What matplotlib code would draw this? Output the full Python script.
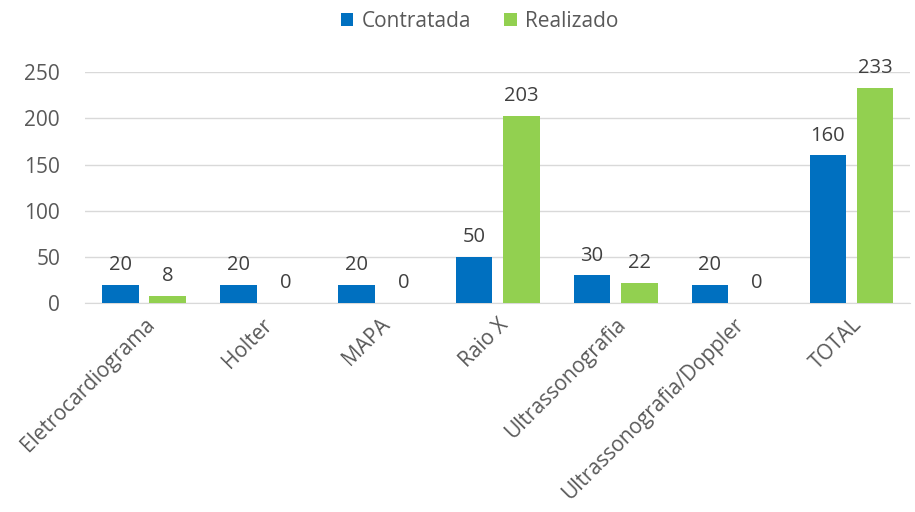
import matplotlib.pyplot as plt
import numpy as np

# Dados
categorias = ["Eletrocardiograma", "Holter", "MAPA", "Raio X", "Ultrassonografia",
              "Ultrassonografia/Doppler", "TOTAL"]
contratada = [20, 20, 20, 50, 30, 20, 160]
realizado = [8, 0, 0, 203, 22, 0, 233]

plt.rcParams['font.family'] = ['Open Sans', 'DejaVu Sans']
cinza = '#595959'

fig = plt.figure(figsize=(9.15, 5.12), dpi=100)
ax = fig.add_axes([0.093, 0.408, 0.902, 0.451])

x = np.arange(len(categorias))
w = 0.31
b1 = ax.bar(x - 0.2, contratada, w, color='#0070C0', label='Contratada', zorder=3)
b2 = ax.bar(x + 0.2, realizado, w, color='#92D050', label='Realizado', zorder=3)

for barras in (b1, b2):
    for r in barras:
        ax.annotate(str(int(r.get_height())), (r.get_x() + r.get_width() / 2, r.get_height()),
                    xytext=(0, 7), textcoords='offset points', ha='center', va='bottom',
                    fontsize=14.5, color='#404040', annotation_clip=False)

ax.set_xlim(-0.5, len(categorias) - 0.5)
ax.set_ylim(0, 250)
ax.set_yticks([0, 50, 100, 150, 200, 250])
ax.yaxis.grid(True, color='#d9d9d9', linewidth=1, zorder=0)
ax.set_axisbelow(True)
for s in ['top', 'right', 'left']:
    ax.spines[s].set_visible(False)
ax.spines['bottom'].set_color('#d9d9d9')
ax.tick_params(axis='both', length=0, labelsize=15, colors=cinza)
ax.tick_params(axis='y', pad=18)
ax.set_xticks(x)
ax.set_xticklabels(categorias, rotation=45, ha='right', rotation_mode='anchor')
ax.tick_params(axis='x', pad=8)

fig.legend(loc='upper center', bbox_to_anchor=(0.524, 1.015), ncol=2, frameon=False,
           fontsize=15, labelcolor=cinza, handlelength=0.6, handleheight=0.6,
           columnspacing=1.6, handletextpad=0.4)

plt.savefig('out.png', dpi=100)
